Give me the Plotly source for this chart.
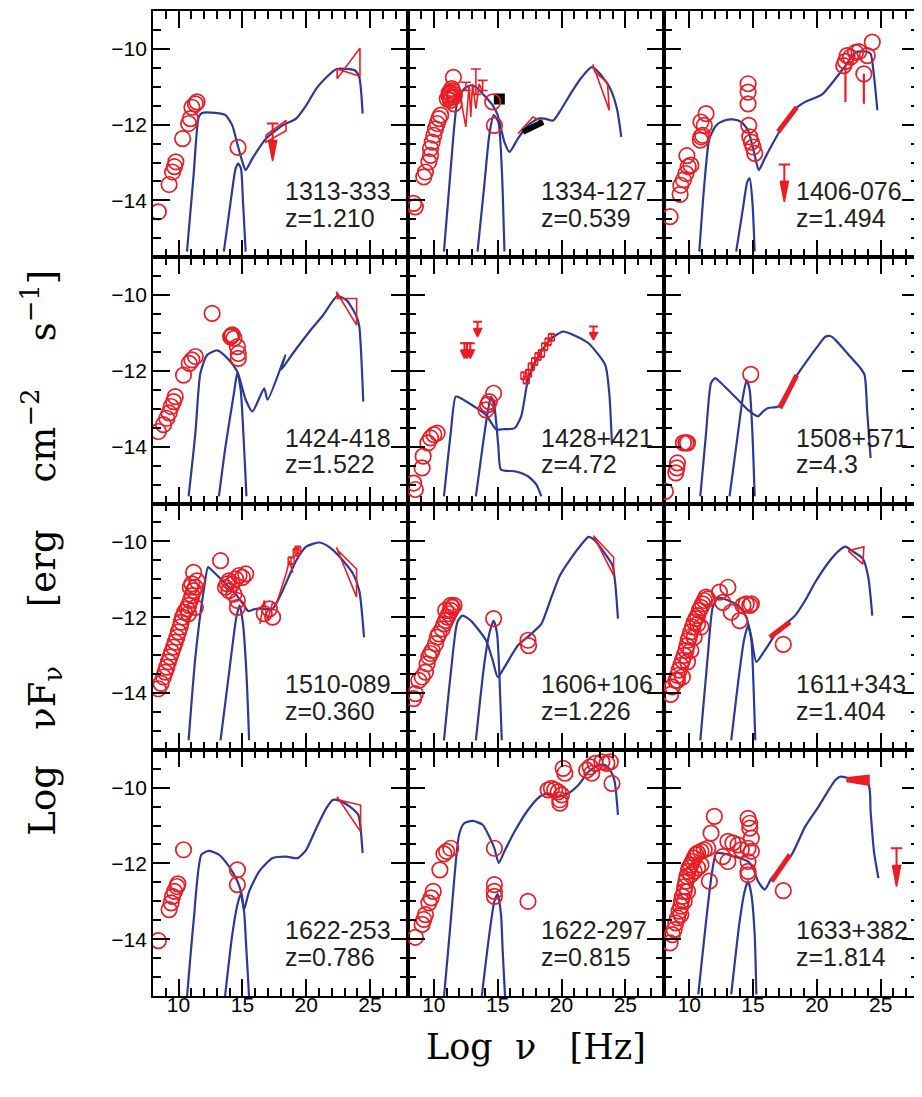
import plotly.graph_objects as go
from plotly.subplots import make_subplots

RED = "#EC1C24"
BLUE = "#2B3A96"

names = ["1313-333", "1334-127", "1406-076", "1424-418", "1428+421", "1508+571",
         "1510-089", "1606+106", "1611+343", "1622-253", "1622-297", "1633+382"]
redshifts = ["1.210", "0.539", "1.494", "1.522", "4.72", "4.3",
             "0.360", "1.226", "1.404", "0.786", "0.815", "1.814"]

# ---------------- panel 1 : 1313-333 ----------------
c1_x = [8.42, 9.26, 9.53, 9.68, 9.79, 10.32, 10.79, 10.92, 11.05, 11.32, 11.45, 14.66]
c1_y = [-14.3, -13.58, -13.25, -13.11, -12.98, -12.37, -11.97, -11.84, -11.54, -11.45, -11.4, -12.6]
m1_x = [10.66, 11.18, 11.58, 11.84, 12.89, 13.68, 14.21, 14.6, 15.0, 15.26, 15.79, 16.84, 18.16, 19.21,
        20.0, 20.79, 21.58, 22.37, 23.16, 23.82, 24.16, 24.42]
m1_y = [-15.35, -13.33, -11.8, -11.69, -11.69, -11.75, -12.02, -12.5, -12.98, -13.2, -12.89, -12.37, -12.02,
        -11.84, -11.49, -11.05, -10.75, -10.53, -10.53, -10.57, -10.75, -11.71]
d1_x = [13.55, 14.08, 14.47, 14.68, 14.89, 15.05, 15.26]
d1_y = [-15.35, -14.04, -13.16, -13.03, -13.16, -14.04, -15.35]
bx1_x = [16.84, 18.42, 18.42, 16.84, 16.84]
bx1_y = [-12.28, -11.89, -12.16, -12.46, -12.28]
bg1_x = [22.42, 24.21, 24.21, 22.42, 22.42]
bg1_y = [-10.79, -9.98, -10.72, -10.53, -10.79]
ul1_x = [17.37]
ul1_top = [-11.97]
ul1_tip = [-12.96]

# ---------------- panel 2 : 1334-127 ----------------
c2_x = [8.42, 8.55, 9.21, 9.34, 9.61, 9.74, 9.74, 9.87, 10.0, 10.13, 10.26, 10.39, 10.53, 11.05, 11.18, 11.32,
        11.45, 11.53, 11.58, 11.58, 11.2, 11.3, 11.6, 11.4, 11.25, 14.61, 14.74]
c2_y = [-14.08, -14.17, -13.38, -13.25, -12.98, -12.81, -12.63, -12.46, -12.28, -12.11, -11.97, -11.84, -11.75,
        -11.32, -11.23, -11.18, -11.1, -10.75, -11.27, -11.45, -11.16, -11.36, -11.2, -11.05, -11.28, -11.4, -12.02]
m2_x = [10.79, 11.32, 11.84, 12.37, 12.89, 13.29, 13.95, 14.61, 15.0, 15.53, 15.92, 16.58, 17.37, 18.16, 18.68,
        19.34, 20.0, 20.79, 21.58, 22.37, 23.03, 23.82, 24.34, 24.68]
m2_y = [-15.35, -13.16, -11.4, -11.05, -10.96, -11.01, -11.23, -11.49, -11.75, -12.46, -12.72, -12.37, -12.02,
        -11.84, -11.84, -11.89, -11.58, -11.14, -10.75, -10.48, -10.66, -11.05, -11.58, -12.32]
d2_x = [13.42, 13.95, 14.34, 14.68, 15.05, 15.32, 15.53]
d2_y = [-15.35, -13.6, -12.28, -11.75, -11.93, -13.16, -15.35]
zz2_x = [11.97, 12.5, 12.76, 12.89, 13.03, 13.29, 13.55, 13.82]
zz2_y = [-11.05, -12.06, -10.96, -11.8, -10.92, -11.58, -10.92, -11.14]
cap2_x = [12.5, 13.29, 13.82]
cap2_lo = [-11.1, -11.2, -11.1]
cap2_hi = [-10.88, -10.53, -10.83]
sq2_x = [15.13]
sq2_y = [-11.32]
xk2_x = [16.97, 18.55]
xk2_y = [-12.19, -11.93]
bx2_x = [16.58, 17.76, 18.55, 16.84, 16.58]
bx2_y = [-12.24, -11.8, -11.93, -12.15, -12.24]
bg2_x = [22.45, 23.74, 23.6, 22.6, 22.45]
bg2_y = [-10.41, -11.62, -10.9, -10.6, -10.41]

# ---------------- panel 3 : 1406-076 ----------------
c3_x = [8.5, 9.29, 9.34, 9.55, 9.74, 9.92, 9.82, 10.13, 10.87, 10.92, 11.05, 10.92, 11.18, 11.32, 14.61, 14.61,
        14.61, 14.66, 14.74, 14.87, 15.0, 15.13, 22.1, 22.24, 22.37, 22.63, 23.03, 23.29, 23.68, 23.95, 24.34]
c3_y = [-14.43, -13.84, -13.6, -13.46, -13.29, -13.11, -12.82, -13.07, -12.41, -12.32, -12.28, -11.93, -12.02,
        -11.71, -10.92, -11.14, -11.45, -12.02, -12.32, -12.46, -12.59, -12.76, -10.44, -10.33, -10.18, -10.22,
        -10.09, -10.07, -10.66, -10.18, -9.82]
e3_x = [22.24, 23.68]
e3_y = [-10.44, -10.66]
e3_lo = [-11.4, -11.45]
xr3_x = [16.97, 18.42]
xr3_y = [-12.19, -11.54]
ul3_x = [17.45]
ul3_top = [-13.05]
ul3_tip = [-14.04]
m3_x = [10.79, 11.18, 11.58, 12.11, 12.76, 13.42, 14.08, 14.61, 15.13, 15.45, 15.92, 16.97, 18.03, 19.08, 20.39,
        21.45, 22.24, 23.03, 23.82, 24.21, 24.47, 24.74]
m3_y = [-15.35, -13.6, -12.37, -12.02, -11.89, -11.86, -11.93, -12.15, -12.81, -13.2, -12.89, -12.24, -11.67,
        -11.4, -11.21, -10.79, -10.44, -10.09, -10.07, -10.13, -10.7, -11.62]
d3_x = [13.68, 14.21, 14.55, 14.74, 14.95, 15.13]
d3_y = [-15.35, -14.21, -13.51, -13.42, -14.04, -15.35]

# ---------------- panel 4 : 1424-418 ----------------
c4_x = [8.42, 8.82, 9.08, 9.26, 9.42, 9.61, 9.74, 10.39, 10.84, 11.05, 11.32, 12.63, 14.08, 14.15, 14.21, 14.34,
        14.61, 14.68, 14.68]
c4_y = [-13.6, -13.42, -13.25, -13.11, -12.94, -12.81, -12.68, -12.11, -11.8, -11.71, -11.62, -10.48, -11.1,
        -11.07, -11.05, -11.14, -11.36, -11.54, -11.67]
m4_x = [10.79, 11.32, 11.71, 12.24, 13.03, 13.95, 14.61, 15.26, 15.79, 16.71, 16.97, 18.37, 18.03, 18.95, 20.26,
        21.32, 22.42, 23.16, 23.95, 24.16, 24.47]
m4_y = [-15.31, -13.64, -12.06, -11.58, -11.46, -11.71, -12.02, -12.76, -13.07, -12.46, -12.76, -11.58, -11.97,
        -11.54, -10.96, -10.53, -10.03, -10.13, -10.57, -10.83, -12.81]
d4_x = [13.16, 13.68, 14.34, 14.61, 14.87, 15.13, 15.32]
d4_y = [-15.31, -13.99, -12.59, -12.04, -12.5, -13.99, -15.31]
bg4_x = [22.37, 22.45, 23.95, 23.95, 22.37]
bg4_y = [-9.91, -10.09, -10.09, -10.79, -9.91]

# ---------------- panel 5 : 1428+421 ----------------
c5_x = [8.42, 8.55, 9.08, 9.16, 9.53, 9.74, 10.0, 10.26, 14.08, 14.21, 14.34, 14.68]
c5_y = [-14.96, -15.13, -14.56, -14.25, -13.9, -13.77, -13.68, -13.64, -13.03, -12.89, -12.81, -12.59]
ul5_x = [13.42, 12.4, 12.6, 12.85, 22.5]
ul5_top = [-10.7, -11.27, -11.27, -11.27, -10.83]
ul5_tip = [-11.1, -11.67, -11.67, -11.67, -11.18]
xp5_x = [17.05, 17.24, 17.42, 17.63, 17.89, 18.16, 18.42, 18.68, 18.95, 19.21]
xp5_y = [-12.13, -12.24, -12.06, -11.89, -11.75, -11.62, -11.54, -11.36, -11.23, -11.11]
m5_x = [10.79, 11.32, 11.71, 12.11, 13.16, 14.08, 14.87, 15.39, 16.32, 16.84, 17.37, 18.16, 19.21, 20.13, 20.79,
        22.11, 23.42, 23.74, 23.95]
m5_y = [-15.31, -13.64, -12.68, -12.72, -12.94, -13.16, -13.54, -13.54, -13.51, -13.2, -12.24, -11.62, -11.14,
        -10.96, -11.03, -11.27, -11.84, -12.59, -13.95]
d5_x = [13.29, 13.82, 14.21, 14.47, 14.74, 15.05, 15.26, 16.32, 17.37, 18.03, 18.42]
d5_y = [-15.31, -13.99, -13.11, -12.68, -12.94, -13.99, -14.61, -14.65, -14.78, -15.0, -15.31]

# ---------------- panel 6 : 1508+571 ----------------
c6_x = [8.13, 8.95, 9.03, 9.08, 9.55, 9.74, 9.87, 14.82]
c6_y = [-15.18, -14.69, -14.56, -14.43, -13.9, -13.9, -13.9, -12.09]
m6_x = [10.87, 11.32, 11.71, 12.03, 12.37, 13.82, 14.61, 15.13, 15.39, 15.79, 16.18, 16.97, 17.37, 18.29, 19.08,
        20.13, 20.66, 21.05, 21.45, 22.5, 23.42, 23.74, 23.95, 24.21]
m6_y = [-15.31, -13.64, -12.32, -12.19, -12.28, -12.76, -13.03, -13.16, -13.2, -13.07, -12.98, -12.94, -12.72,
        -12.19, -11.8, -11.32, -11.1, -11.08, -11.18, -11.58, -11.93, -12.11, -13.11, -14.3]
d6_x = [13.16, 13.82, 14.21, 14.5, 14.74, 14.95, 15.13]
d6_y = [-15.31, -13.64, -12.68, -12.24, -12.5, -13.64, -15.31]
xr6_x = [17.11, 18.42]
xr6_y = [-12.98, -12.11]

# ---------------- panel 7 : 1510-089 ----------------
c7_x = [8.42, 8.63, 8.82, 8.95, 9.08, 9.21, 9.34, 9.47, 9.61, 9.74, 9.87, 10.0, 10.13, 10.21, 10.32, 10.47,
        10.66, 10.79, 10.92, 11.05, 11.18, 11.32, 10.92, 11.05, 11.45, 11.18, 11.32, 10.79, 13.29, 13.68, 13.95,
        14.21, 14.47, 14.74, 15.26, 13.95, 14.34, 14.61, 14.61, 15.0, 13.82, 16.71, 17.37, 17.11]
c7_y = [-13.89, -13.75, -13.58, -13.45, -13.32, -13.18, -13.05, -12.92, -12.79, -12.66, -12.53, -12.39, -12.26,
        -12.13, -12.0, -11.87, -11.78, -11.69, -11.56, -11.43, -11.3, -11.21, -11.21, -11.12, -11.04, -10.82,
        -11.74, -11.91, -10.51, -11.21, -11.04, -11.12, -10.99, -10.9, -10.86, -11.3, -11.39, -11.56, -11.74,
        -10.95, -11.12, -11.91, -12.0, -11.78]
xl7_x = [16.37, 16.71, 16.97, 17.37, 17.63, 18.42, 18.68, 18.95]
xl7_y = [-12.18, -11.56, -12.09, -11.61, -11.69, -10.86, -10.51, -10.82]
ep7_x = [18.82, 19.21, 19.34]
ep7_y = [-10.51, -10.29, -10.23]
m7_x = [10.79, 11.32, 11.97, 12.32, 12.63, 13.68, 14.47, 15.13, 15.47, 16.05, 16.71, 17.37, 18.03, 18.68, 19.21,
        20.0, 21.05, 21.84, 22.89, 23.68, 24.16, 24.53]
m7_y = [-15.25, -13.05, -11.3, -10.68, -10.77, -11.12, -11.39, -11.69, -11.84, -11.78, -11.78, -11.78, -11.39,
        -10.9, -10.51, -10.14, -10.03, -10.16, -10.51, -10.86, -11.3, -12.53]
d7_x = [13.29, 13.95, 14.53, 14.79, 15.05, 15.32, 15.53]
d7_y = [-15.25, -13.49, -12.0, -11.69, -12.18, -13.49, -15.25]
bg7_x = [22.37, 23.95, 23.95, 22.5, 22.37]
bg7_y = [-10.16, -11.47, -10.73, -10.25, -10.16]

# ---------------- panel 8 : 1606+106 ----------------
c8_x = [8.42, 8.55, 8.82, 9.08, 9.34, 9.47, 9.61, 9.74, 9.87, 10.13, 10.26, 10.39, 10.66, 10.79, 10.92, 11.05,
        11.18, 11.32, 11.45, 10.92, 11.32, 11.58, 14.68, 17.37, 17.42]
c8_y = [-14.15, -14.02, -13.67, -13.58, -13.45, -13.23, -13.05, -12.96, -12.88, -12.7, -12.53, -12.44, -12.31,
        -12.18, -12.09, -12.0, -11.91, -11.82, -11.74, -11.82, -11.69, -11.69, -12.04, -12.61, -12.75]
m8_x = [10.79, 11.32, 11.84, 12.24, 12.89, 14.08, 14.61, 15.0, 15.53, 16.58, 17.63, 18.42, 19.21, 19.87, 20.79,
        21.58, 22.11, 22.5, 23.42, 24.0, 24.21, 24.42]
m8_y = [-15.25, -13.49, -12.13, -11.96, -12.09, -12.61, -13.14, -13.58, -13.32, -12.75, -12.44, -12.18, -11.47,
        -10.9, -10.42, -10.07, -9.88, -9.94, -10.33, -10.64, -11.12, -12.04]
d8_x = [13.29, 13.95, 14.34, 14.68, 14.95, 15.13, 15.32]
d8_y = [-15.25, -13.23, -12.44, -12.09, -12.44, -13.49, -15.25]
bg8_x = [22.5, 24.08, 24.08, 22.5]
bg8_y = [-9.85, -10.42, -10.9, -9.85]

# ---------------- panel 9 : 1611+343 ----------------
c9_x = [8.55, 8.68, 8.95, 9.08, 9.21, 9.34, 9.47, 9.61, 9.74, 9.82, 9.92, 10.0, 10.13, 10.26, 10.39, 10.53,
        10.66, 10.79, 10.92, 11.05, 11.18, 11.32, 11.45, 10.66, 10.92, 9.87, 9.47, 9.08, 10.13, 10.39, 12.37,
        13.03, 12.63, 13.29, 13.95, 14.21, 14.47, 14.74, 14.87, 17.37]
c9_y = [-14.04, -13.84, -13.67, -13.54, -13.4, -13.27, -13.14, -13.01, -12.88, -12.75, -12.61, -12.53, -12.39,
        -12.26, -12.13, -12.04, -11.96, -11.82, -11.74, -11.65, -11.56, -11.47, -11.52, -12.18, -12.26, -13.18,
        -13.58, -13.67, -12.88, -12.53, -11.34, -11.21, -11.61, -11.87, -12.09, -11.69, -11.65, -11.69, -11.65,
        -12.72]
xr9_x = [16.32, 17.89]
xr9_y = [-12.53, -12.13]
m9_x = [10.87, 11.45, 11.84, 12.24, 12.76, 13.82, 14.47, 14.87, 15.26, 15.92, 16.97, 18.29, 19.08, 19.87, 20.92,
        21.71, 22.24, 22.76, 23.61, 24.03, 24.34]
m9_y = [-15.25, -13.05, -11.74, -11.49, -11.52, -11.69, -12.0, -12.53, -13.18, -12.88, -12.35, -11.96, -11.56,
        -11.08, -10.55, -10.25, -10.14, -10.25, -10.46, -10.95, -11.96]
d9_x = [13.29, 13.82, 14.29, 14.61, 14.87, 15.05, 15.18]
d9_y = [-15.25, -13.75, -12.61, -12.22, -12.61, -13.93, -15.25]
bg9_x = [22.45, 23.68, 23.6, 22.45]
bg9_y = [-10.25, -10.14, -10.6, -10.25]

# ---------------- panel 10 : 1622-253 ----------------
c10_x = [8.42, 9.26, 9.42, 9.53, 9.68, 9.87, 9.95, 10.39, 14.61, 14.61]
c10_y = [-14.04, -13.22, -13.04, -12.87, -12.74, -12.61, -12.54, -11.64, -12.17, -12.56]
m10_x = [10.66, 11.18, 11.79, 12.37, 13.16, 13.95, 14.61, 14.95, 15.13, 15.53, 16.32, 17.37, 18.42, 19.34, 20.0,
         20.79, 21.58, 22.11, 22.63, 23.42, 24.08, 24.26, 24.42]
m10_y = [-15.54, -13.53, -11.77, -11.67, -11.77, -12.08, -12.47, -12.82, -13.22, -12.74, -12.21, -11.86, -11.82,
         -11.86, -11.64, -11.07, -10.54, -10.32, -10.35, -10.5, -10.72, -11.07, -11.73]
d10_x = [13.63, 14.21, 14.61, 14.87, 15.13, 15.32, 15.53]
d10_y = [-15.54, -13.88, -13.09, -12.81, -13.26, -14.31, -15.54]
bg10_x = [22.42, 24.26, 24.26, 22.5, 22.42]
bg10_y = [-10.24, -11.16, -10.46, -10.32, -10.24]

# ---------------- panel 11 : 1622-297 ----------------
c11_x = [8.55, 9.08, 9.21, 9.34, 9.61, 9.79, 9.95, 10.47, 10.79, 11.0, 11.32, 14.74, 14.74, 14.74, 14.74, 17.37,
         19.21, 19.47, 19.74, 20.0, 19.87, 20.26, 20.13, 22.24, 22.63, 23.16, 23.55, 23.82, 23.95, 21.97, 22.37,
         18.95, 19.87]
c11_y = [-13.95, -13.61, -13.48, -13.35, -13.04, -12.91, -12.74, -12.17, -11.75, -11.68, -11.6, -11.6, -12.56,
         -12.74, -12.87, -13.0, -10.02, -10.06, -10.11, -10.19, -10.32, -9.62, -9.49, -9.45, -9.36, -9.32, -9.36,
         -9.32, -9.89, -9.54, -9.62, -10.06, -10.41]
m11_x = [10.79, 11.32, 11.97, 12.37, 13.03, 13.82, 14.34, 14.74, 15.08, 15.53, 16.32, 17.37, 18.29, 18.95, 19.74,
         20.53, 21.32, 22.11, 22.89, 23.42, 23.82, 24.16, 24.42]
m11_y = [-15.54, -13.53, -11.25, -10.94, -10.88, -10.98, -11.29, -11.6, -11.99, -11.68, -11.16, -10.59, -10.24,
         -10.15, -10.24, -10.15, -9.93, -9.58, -9.4, -9.4, -9.54, -9.84, -10.72]
d11_x = [13.74, 14.34, 14.74, 15.0, 15.26, 15.39, 15.58]
d11_y = [-15.54, -13.88, -13.0, -12.81, -13.35, -14.31, -15.54]

# ---------------- panel 12 : 1633+382 ----------------
c12_x = [8.5, 8.68, 8.82, 8.95, 9.08, 9.21, 9.34, 9.39, 9.47, 9.61, 9.66, 9.74, 9.82, 9.92, 10.0, 10.13, 10.26,
         10.39, 10.53, 10.66, 10.92, 11.18, 11.45, 10.13, 10.39, 10.66, 10.92, 9.87, 9.61, 9.34,
         11.97, 11.71, 13.03, 13.42, 12.63, 13.03, 11.58, 14.61, 14.74, 14.74, 14.87, 14.61, 14.87, 14.61, 14.61,
         14.61, 13.82, 14.08, 17.37]
c12_y = [-14.1, -13.88, -13.75, -13.57, -13.44, -13.26, -13.13, -13.0, -12.87, -12.74, -12.61, -12.47, -12.34,
         -12.21, -12.12, -12.04, -11.95, -11.86, -11.77, -11.73, -11.68, -11.64, -11.6, -12.3, -12.21, -12.12,
         -12.04, -12.74, -13.0, -13.35,
         -10.76, -11.2, -11.42, -11.46, -11.82, -11.95, -12.47, -10.81, -10.94, -11.07, -11.33, -11.6, -11.68,
         -11.95, -12.21, -12.3, -11.51, -11.64, -12.72]
xr12_x = [16.45, 17.89]
xr12_y = [-12.47, -11.77]
bg12_x = [22.37, 24.08, 24.08, 22.37, 22.37]
bg12_y = [-9.74, -9.68, -9.93, -9.84, -9.74]
ul12_x = [26.24]
ul12_top = [-11.6]
ul12_tip = [-12.61]
m12_x = [10.71, 11.32, 11.76, 12.11, 12.5, 13.55, 14.61, 15.0, 15.39, 15.92, 16.45, 18.03, 19.08, 20.13, 21.45,
         21.84, 22.5, 24.03, 24.21, 24.47, 24.82]
m12_y = [-15.46, -13.53, -12.3, -11.73, -11.73, -11.82, -11.95, -12.12, -12.47, -12.69, -12.39, -11.77, -11.03,
         -10.5, -9.8, -9.71, -9.75, -9.91, -10.63, -11.68, -12.39]
d12_x = [13.29, 13.95, 14.34, 14.61, 14.87, 15.13, 15.26]
d12_y = [-15.46, -13.53, -12.74, -12.47, -12.82, -13.88, -15.46]

panels = [
    dict(c=(c1_x, c1_y), m=(m1_x, m1_y), d=[(d1_x, d1_y)], bow=[(bx1_x, bx1_y), (bg1_x, bg1_y)],
         ul=(ul1_x, ul1_top, ul1_tip)),
    dict(c=(c2_x, c2_y), m=(m2_x, m2_y), d=[(d2_x, d2_y)], bow=[(bx2_x, bx2_y), (bg2_x, bg2_y), (zz2_x, zz2_y)],
         cap=(cap2_x, cap2_lo, cap2_hi), sq=(sq2_x, sq2_y), xk=(xk2_x, xk2_y)),
    dict(c=(c3_x, c3_y), m=(m3_x, m3_y), d=[(d3_x, d3_y)], err=(e3_x, e3_y, e3_lo), xr=(xr3_x, xr3_y),
         ul=(ul3_x, ul3_top, ul3_tip)),
    dict(c=(c4_x, c4_y), m=(m4_x, m4_y), d=[(d4_x, d4_y)], bow=[(bg4_x, bg4_y)]),
    dict(c=(c5_x, c5_y), m=(m5_x, m5_y), d=[(d5_x, d5_y)], ul=(ul5_x, ul5_top, ul5_tip), xp=(xp5_x, xp5_y)),
    dict(c=(c6_x, c6_y), m=(m6_x, m6_y), d=[(d6_x, d6_y)], xr=(xr6_x, xr6_y)),
    dict(c=(c7_x, c7_y), m=(m7_x, m7_y), d=[(d7_x, d7_y)], bow=[(bg7_x, bg7_y), (xl7_x, xl7_y)], xp=(ep7_x, ep7_y)),
    dict(c=(c8_x, c8_y), m=(m8_x, m8_y), d=[(d8_x, d8_y)], bow=[(bg8_x, bg8_y)]),
    dict(c=(c9_x, c9_y), m=(m9_x, m9_y), d=[(d9_x, d9_y)], bow=[(bg9_x, bg9_y)], xr=(xr9_x, xr9_y)),
    dict(c=(c10_x, c10_y), m=(m10_x, m10_y), d=[(d10_x, d10_y)], bow=[(bg10_x, bg10_y)]),
    dict(c=(c11_x, c11_y), m=(m11_x, m11_y), d=[(d11_x, d11_y)]),
    dict(c=(c12_x, c12_y), m=(m12_x, m12_y), d=[(d12_x, d12_y)], fill=(bg12_x, bg12_y), xr=(xr12_x, xr12_y),
         ul=(ul12_x, ul12_top, ul12_tip)),
]

X_RANGE = [8, 28]
Y_RANGE = [-15.5, -9]


def upper_limits(xs, tops, tips):
    lx, ly, hx, hy = [], [], [], []
    for x, t, b in zip(xs, tops, tips):
        h = min(0.65, 0.55 * (t - b))
        w = 0.45 if (t - b) > 0.6 else 0.35
        lx += [x - w, x + w, None, x, x, None]
        ly += [t, t, None, t, b + h * 0.5, None]
        hx += [x - 0.32, x, x + 0.32, x - 0.32, None]
        hy += [b + h, b, b + h, b + h, None]
    return lx, ly, hx, hy


fig = make_subplots(rows=4, cols=3, horizontal_spacing=0, vertical_spacing=0)

CURVE = dict(color=BLUE, width=2.2, shape="spline", smoothing=0.6)

for i, p in enumerate(panels):
    r, c = i // 3 + 1, i % 3 + 1
    kw = dict(row=r, col=c)
    for dx, dy in p["d"]:
        fig.add_trace(go.Scatter(x=dx, y=dy, mode="lines", line=CURVE,
                                 showlegend=False, hoverinfo="skip"), **kw)
    fig.add_trace(go.Scatter(x=p["m"][0], y=p["m"][1], mode="lines", line=CURVE,
                             showlegend=False, hoverinfo="skip"), **kw)
    for bx, by in p.get("bow", []):
        fig.add_trace(go.Scatter(x=bx, y=by, mode="lines", line=dict(color=RED, width=1.6),
                                 showlegend=False, hoverinfo="skip"), **kw)
    if "fill" in p:
        fig.add_trace(go.Scatter(x=p["fill"][0], y=p["fill"][1], mode="lines", fill="toself", fillcolor=RED,
                                 line=dict(color=RED, width=1.6), showlegend=False, hoverinfo="skip"), **kw)
    if "xr" in p:
        fig.add_trace(go.Scatter(x=p["xr"][0], y=p["xr"][1], mode="lines", line=dict(color=RED, width=5),
                                 showlegend=False, hoverinfo="skip"), **kw)
    if "xk" in p:
        fig.add_trace(go.Scatter(x=p["xk"][0], y=p["xk"][1], mode="lines", line=dict(color="black", width=6),
                                 showlegend=False, hoverinfo="skip"), **kw)
    if "sq" in p:
        fig.add_trace(go.Scatter(x=p["sq"][0], y=p["sq"][1], mode="markers",
                                 marker=dict(symbol="square", size=11, color="black"),
                                 showlegend=False, hoverinfo="skip"), **kw)
    if "cap" in p:
        cx, lo, hi = p["cap"]
        fig.add_trace(go.Scatter(x=cx, y=lo, mode="markers", marker=dict(size=1, color=RED),
                                 error_y=dict(type="data", symmetric=False,
                                              array=[h - l for h, l in zip(hi, lo)], arrayminus=[0] * len(lo),
                                              color=RED, thickness=1.6, width=5),
                                 showlegend=False, hoverinfo="skip"), **kw)
    if "err" in p:
        ex, ey, elo = p["err"]
        fig.add_trace(go.Scatter(x=ex, y=ey, mode="markers", marker=dict(size=1, color=RED),
                                 error_y=dict(type="data", symmetric=False, array=[0] * len(ey),
                                              arrayminus=[y - l for y, l in zip(ey, elo)],
                                              color=RED, thickness=2.2, width=0),
                                 showlegend=False, hoverinfo="skip"), **kw)
    if "xp" in p:
        fig.add_trace(go.Scatter(x=p["xp"][0], y=p["xp"][1], mode="markers",
                                 marker=dict(symbol="square-open", size=6, color=RED, line=dict(width=1.4, color=RED)),
                                 error_y=dict(type="constant", value=0.1, color=RED, thickness=1.4, width=3),
                                 showlegend=False, hoverinfo="skip"), **kw)
    if "ul" in p:
        lx, ly, hx, hy = upper_limits(*p["ul"])
        fig.add_trace(go.Scatter(x=lx, y=ly, mode="lines", line=dict(color=RED, width=2),
                                 showlegend=False, hoverinfo="skip"), **kw)
        fig.add_trace(go.Scatter(x=hx, y=hy, mode="lines", fill="toself", fillcolor=RED,
                                 line=dict(color=RED, width=1.5), showlegend=False, hoverinfo="skip"), **kw)
    fig.add_trace(go.Scatter(x=p["c"][0], y=p["c"][1], mode="markers",
                             marker=dict(symbol="circle-open", size=15.5, color=RED, line=dict(width=1.7, color=RED)),
                             showlegend=False, hoverinfo="skip"), **kw)

    sfx = "" if i == 0 else str(i + 1)
    fig.add_annotation(x=18.2, y=-13.76, xref="x" + sfx, yref="y" + sfx, text=names[i], showarrow=False,
                       xanchor="left", yanchor="middle",
                       font=dict(family="Liberation Sans, Arial", size=25, color="#231F20"))
    fig.add_annotation(x=18.2, y=-14.47, xref="x" + sfx, yref="y" + sfx, text="z=" + redshifts[i],
                       showarrow=False, xanchor="left", yanchor="middle",
                       font=dict(family="Liberation Sans, Arial", size=25, color="#231F20"))

axis_common = dict(showline=True, linecolor="black", linewidth=1.8, mirror="ticks", ticks="inside",
                   tickcolor="black", tickwidth=2.4, ticklen=17, showgrid=False, zeroline=False,
                   tickfont=dict(family="Liberation Sans, Arial", size=21, color="black"))

for i in range(12):
    r, c = i // 3 + 1, i % 3 + 1
    fig.update_xaxes(range=X_RANGE, tickmode="linear", tick0=0, dtick=5,
                     showticklabels=(r == 4), ticklabelstandoff=-11,
                     minor=dict(dtick=1, tick0=0, ticks="inside", ticklen=8, tickwidth=2.2, tickcolor="black"),
                     row=r, col=c, **axis_common)
    fig.update_yaxes(range=Y_RANGE, tickmode="linear", tick0=-10, dtick=2,
                     showticklabels=(c == 1),
                     minor=dict(dtick=0.5, tick0=0, ticks="inside", ticklen=8, tickwidth=2.2, tickcolor="black"),
                     row=r, col=c, **axis_common)

fig.add_annotation(xref="paper", yref="paper", x=0.5, y=-0.052, yanchor="middle", xanchor="center",
                   text="Log  \u03bd   [Hz]", showarrow=False,
                   font=dict(family="DejaVu Serif", size=35, color="black"))
fig.add_annotation(xref="paper", yref="paper", x=-0.145, y=0.45, yanchor="middle", xanchor="center",
                   textangle=-90,
                   text="Log   \u03bdF<sub>\u03bd</sub>     [erg    cm<sup>\u22122</sup>    s<sup>\u22121</sup>]",
                   showarrow=False, font=dict(family="DejaVu Serif", size=37, color="black"))

# page body has an 8px margin, so the figure is sized to fit the 922x1097 window
fig.update_layout(width=914, height=1089, margin=dict(l=145, r=1, t=1, b=101),
                  plot_bgcolor="rgba(0,0,0,0)", paper_bgcolor="white", showlegend=False)

fig.write_html("out.html")
